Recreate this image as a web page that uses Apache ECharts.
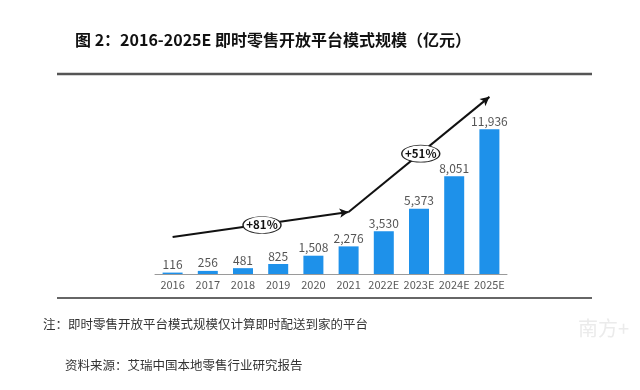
<!DOCTYPE html>
<html>
<head>
<meta charset="utf-8">
<script src="https://cdn.jsdelivr.net/npm/echarts@6/dist/echarts.min.js"></script>
<style>html,body{margin:0;padding:0;background:#fff;}#c{width:640px;height:390px;}</style>
</head>
<body>
<div id="c"></div>
<script>
const categories = ['2016','2017','2018','2019','2020','2021','2022E','2023E','2024E','2025E'];
const values = [116, 256, 481, 825, 1508, 2276, 3530, 5373, 8051, 11936];
const trendX = [0, 5, 9];
const trendY = [3050, 5114, 14600];
const growthLabels = ['+81%', '+51%'];
const growthPos = [[2.54, 4040], [7.05, 9920]];
const titleText = '图 2：2016-2025E 即时零售开放平台模式规模（亿元）';
const noteText = '注：即时零售开放平台模式规模仅计算即时配送到家的平台';
const sourceText = '资料来源：艾瑞中国本地零售行业研究报告';

const FONT = '"Noto Sans CJK SC", "Noto Sans", sans-serif';
const chart = echarts.init(document.getElementById('c'), null, {renderer: 'canvas'});

const segs = [];
for (let i = 0; i < trendX.length - 1; i++) {
  segs.push([{coord: [trendX[i], trendY[i]]}, {coord: [trendX[i + 1], trendY[i + 1]]}]);
}

chart.setOption({
  backgroundColor: '#fff',
  animation: false,
  textStyle: {fontFamily: FONT},
  grid: {left: 155, right: 133, top: 92, bottom: 116},
  xAxis: [{
    type: 'category', data: categories,
    axisLine: {lineStyle: {color: '#9a9a9a', width: 1}},
    axisTick: {show: false},
    axisLabel: {color: '#595959', fontSize: 11, margin: 5, interval: 0, fontFamily: FONT}
  }, {
    type: 'value', min: -0.5, max: 9.5, show: false, gridIndex: 0
  }],
  yAxis: [{
    type: 'value', min: 0, max: 15000, show: false, splitLine: {show: false}
  }],
  series: [{
    type: 'bar', data: values, barWidth: 20,
    itemStyle: {color: '#1E91EA'},
    label: {
      show: true, position: 'top', distance: 2, color: '#555', fontSize: 12, fontFamily: FONT,
      formatter: p => p.value.toLocaleString('en-US')
    }
  }, {
    type: 'line', xAxisIndex: 1, yAxisIndex: 0,
    data: trendX.map((x, i) => [x, trendY[i]]),
    showSymbol: false, symbol: 'none', clip: false,
    lineStyle: {opacity: 0},
    z: 5,
    markLine: {
      silent: true, symbol: ['none', 'arrow'], symbolSize: [7, 9],
      label: {show: false},
      lineStyle: {color: '#111', width: 2, type: 'solid'},
      data: segs
    },
    markPoint: {
      silent: true,
      symbol: 'path://M0,10 A20,10 0 1,1 40,10 A20,10 0 1,1 0,10 Z',
      symbolSize: [38, 17],
      itemStyle: {color: '#fff', borderColor: '#222', borderWidth: 1},
      label: {show: true, position: 'inside', formatter: '{b}', color: '#111', fontSize: 11.5, fontWeight: 'bold', fontFamily: FONT},
      data: growthLabels.map((t, i) => ({name: t, coord: growthPos[i]}))
    }
  }],
  graphic: [
    {type: 'text', left: 75, top: 32, style: {text: titleText, font: 'bold 16px ' + FONT, fill: '#111'}},
    {type: 'line', shape: {x1: 57, y1: 74, x2: 592, y2: 74}, style: {stroke: '#555', lineWidth: 2.5}},
    {type: 'line', shape: {x1: 57, y1: 298, x2: 592, y2: 298}, style: {stroke: '#333', lineWidth: 1.5}},
    {type: 'text', left: 43, top: 318, style: {text: noteText, font: '12.5px ' + FONT, fill: '#333'}},
    {type: 'text', left: 65, top: 359, style: {text: sourceText, font: '12.5px ' + FONT, fill: '#333'}},
    {type: 'text', left: 578, top: 318, style: {text: '南方+', font: '20px ' + FONT, fill: '#ebebeb'}}
  ]
});
</script>
</body>
</html>
